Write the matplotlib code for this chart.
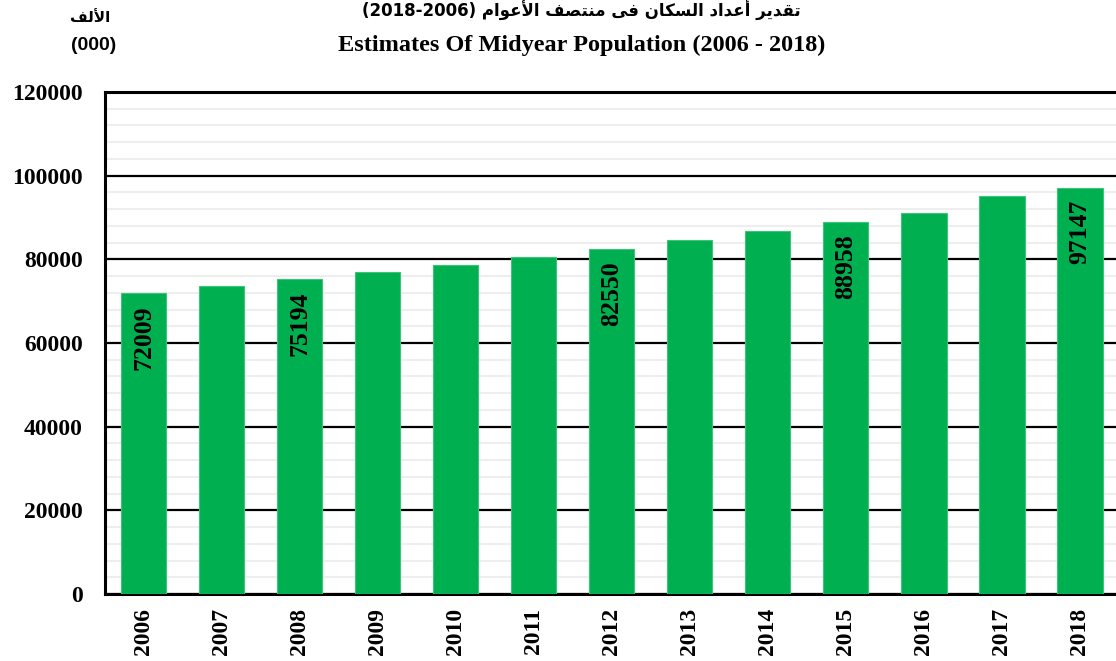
import matplotlib
matplotlib.use("Agg")
import matplotlib.pyplot as plt
from matplotlib.ticker import MultipleLocator

years = ["2006", "2007", "2008", "2009", "2010", "2011", "2012",
         "2013", "2014", "2015", "2016", "2017", "2018"]
population = [72009, 73644, 75194, 76925, 78685, 80530, 82550,
              84629, 86814, 88958, 91023, 95203, 97147]
labelled_years = ["2006", "2008", "2012", "2015", "2018"]

title_ar = "تقدير أعداد السكان فى منتصف الأعوام"
title_ar_years = "(2018-2006)"
title_en = "Estimates Of Midyear Population (2006 - 2018)"
unit_ar = "الألف"
unit_en = "(000)"

# --- minimal Arabic shaping (presentation forms) ---
FORMS = {
    'ا': ('\uFE8D', '\uFE8E', None, None),
    'أ': ('\uFE83', '\uFE84', None, None),
    'ت': ('\uFE95', '\uFE96', '\uFE97', '\uFE98'),
    'د': ('\uFEA9', '\uFEAA', None, None),
    'ر': ('\uFEAD', '\uFEAE', None, None),
    'س': ('\uFEB1', '\uFEB2', '\uFEB3', '\uFEB4'),
    'ص': ('\uFEB9', '\uFEBA', '\uFEBB', '\uFEBC'),
    'ع': ('\uFEC9', '\uFECA', '\uFECB', '\uFECC'),
    'ف': ('\uFED1', '\uFED2', '\uFED3', '\uFED4'),
    'ق': ('\uFED5', '\uFED6', '\uFED7', '\uFED8'),
    'ك': ('\uFED9', '\uFEDA', '\uFEDB', '\uFEDC'),
    'ل': ('\uFEDD', '\uFEDE', '\uFEDF', '\uFEE0'),
    'م': ('\uFEE1', '\uFEE2', '\uFEE3', '\uFEE4'),
    'ن': ('\uFEE5', '\uFEE6', '\uFEE7', '\uFEE8'),
    'و': ('\uFEED', '\uFEEE', None, None),
    'ى': ('\uFEEF', '\uFEF0', None, None),
    'ي': ('\uFEF1', '\uFEF2', '\uFEF3', '\uFEF4'),
}
LAMALEF = {'ا': ('\uFEFB', '\uFEFC'), 'أ': ('\uFEF7', '\uFEF8')}


def dual(c):
    return c in FORMS and FORMS[c][2] is not None


def shape_word(w):
    out = []
    i = 0
    n = len(w)
    while i < n:
        c = w[i]
        prev_joins = i > 0 and dual(w[i - 1])
        if c == 'ل' and i + 1 < n and w[i + 1] in LAMALEF:
            out.append(LAMALEF[w[i + 1]][1 if prev_joins else 0])
            i += 2
            continue
        next_joins = dual(c) and i + 1 < n and w[i + 1] in FORMS
        iso, fin, ini, med = FORMS[c]
        if prev_joins and next_joins:
            g = med
        elif prev_joins:
            g = fin
        elif next_joins:
            g = ini
        else:
            g = iso
        out.append(g)
        i += 1
    return ''.join(reversed(out))


def shape(text):
    return ' '.join(shape_word(w) for w in reversed(text.split()))


W, H = 1116, 661
fig = plt.figure(figsize=(W / 100, H / 100), dpi=100)
ax = fig.add_axes([104.5 / W, 1 - 594 / H, (1119 - 104.5) / W, (594 - 92) / H])

x = list(range(len(years)))
bars = ax.bar(x, population, width=0.58, color="#00B050",
              edgecolor="#3CC47A", linewidth=0.8, zorder=3)

for xi, yr, v in zip(x, years, population):
    if yr in labelled_years:
        ax.annotate(f"{v}", xy=(xi, v), xytext=(0, -9), textcoords="offset points",
                    rotation=90, ha="center", va="top", fontsize=18.5,
                    fontweight="bold", family="Liberation Serif", zorder=4)

ax.set_xlim(-0.5, 12.5)
ax.set_ylim(0, 120000)
ax.yaxis.set_major_locator(MultipleLocator(20000))
ax.yaxis.set_minor_locator(MultipleLocator(4000))
ax.grid(which="major", axis="y", color="black", linewidth=1.6, zorder=1)
ax.grid(which="minor", axis="y", color="#EEEEEE", linewidth=1.5, zorder=0)
ax.set_axisbelow(True)

ax.set_xticks(x)
ax.set_xticklabels(years, rotation=90, fontsize=17, fontweight="bold",
                   family="Liberation Serif")
ax.set_yticks(range(0, 120001, 20000))
ax.set_yticklabels([str(v) for v in range(0, 120001, 20000)], fontsize=17,
                   fontweight="bold", family="Liberation Serif")
ax.tick_params(axis="both", which="both", length=0)
ax.tick_params(axis="y", pad=15.5)
ax.tick_params(axis="x", pad=10)

for s in ["left", "top", "bottom"]:
    ax.spines[s].set_linewidth(2.2)
    ax.spines[s].set_color("black")
ax.spines["right"].set_visible(False)

fig.text(581 / W, 1 - 10 / H, title_ar_years + " " + shape(title_ar),
         ha="center", va="center", fontsize=12, fontweight="bold",
         family=["DejaVu Sans"])
fig.text(582 / W, 1 - 45 / H, title_en, ha="center", va="center",
         fontsize=17.5, fontweight="bold", family="Liberation Serif")
fig.text(90 / W, 1 - 18 / H, shape(unit_ar), ha="center", va="center",
         fontsize=11, fontweight="bold", family=["DejaVu Sans"])
fig.text(94 / W, 1 - 46 / H, unit_en, ha="center", va="center",
         fontsize=14, fontweight="bold", family="Liberation Sans")

fig.savefig("out.png", dpi=100)
